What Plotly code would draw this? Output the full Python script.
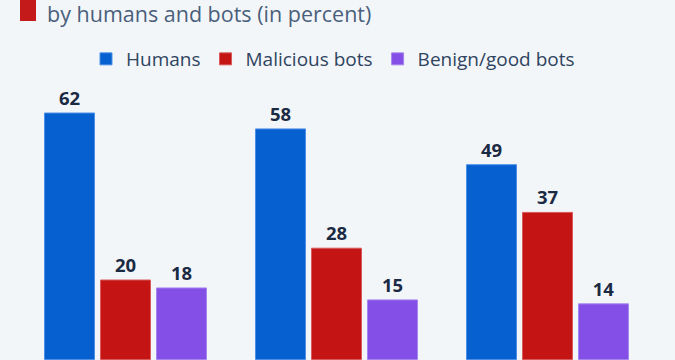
import plotly.graph_objects as go

categories = ["2018", "2021", "2024"]
humans = [62, 58, 49]
malicious = [20, 28, 37]
benign = [18, 15, 14]
series_names = ["Humans", "Malicious bots", "Benign/good bots"]
subtitle = "by humans and bots (in percent)"

colors = ["#0660d0", "#c41414", "#844fe6"]
edge = ["#4b8fe6", "#d85a5a", "#a585ee"]

W, H = 675, 360
L, R, T, B = 20, 22, 80, 0
pw, ph = W - L - R, H - T - B

def px_x(p):
    return (p - L) / pw

def px_y(p):
    return (H - B - p) / ph

FONT = "Open Sans"
fig = go.Figure()
for name, vals, c, e in zip(series_names, [humans, malicious, benign], colors, edge):
    fig.add_trace(go.Bar(
        x=categories, y=vals, name=name,
        marker=dict(color=c, line=dict(color=e, width=1)),
        text=vals, texttemplate="<b>%{text}</b>", textposition="outside",
        textfont=dict(family=FONT, size=18.5, color="#1b2a43"),
        cliponaxis=False,
    ))

fig.update_layout(
    width=W, height=H,
    margin=dict(l=L, r=R, t=T, b=B, pad=0),
    paper_bgcolor="#f3f6f9", plot_bgcolor="#f3f6f9",
    barmode="group", bargap=0.204, bargroupgap=0.107,
    font=dict(family=FONT),
    showlegend=True,
    legend=dict(orientation="h", x=px_x(337) - 4 / pw, xanchor="center", y=px_y(59), yanchor="middle",
                font=dict(family=FONT, size=19, color="#2f4460"),
                bgcolor="rgba(0,0,0,0)", itemclick=False, traceorder="normal"),
    xaxis=dict(showticklabels=False, showgrid=False, zeroline=False, showline=False,
               ticks="", automargin=False),
    yaxis=dict(range=[-0.12, 70.3], showticklabels=False, showgrid=False, zeroline=False,
               showline=False, ticks="", automargin=False),
)

fig.add_shape(type="rect", xref="paper", yref="paper",
              x0=px_x(20), x1=px_x(36), y0=px_y(21), y1=px_y(-5),
              fillcolor="#c41a1a", line=dict(width=0), layer="above")

fig.add_annotation(text=subtitle, xref="paper", yref="paper",
                   x=px_x(45), y=px_y(14), xanchor="left", yanchor="middle",
                   showarrow=False, font=dict(family=FONT, size=21.5, color="#4a5f7b"))

fig.write_html("out.html", config={"displayModeBar": False},
               post_script="document.body.style.margin='0';document.body.style.overflow='hidden';")
